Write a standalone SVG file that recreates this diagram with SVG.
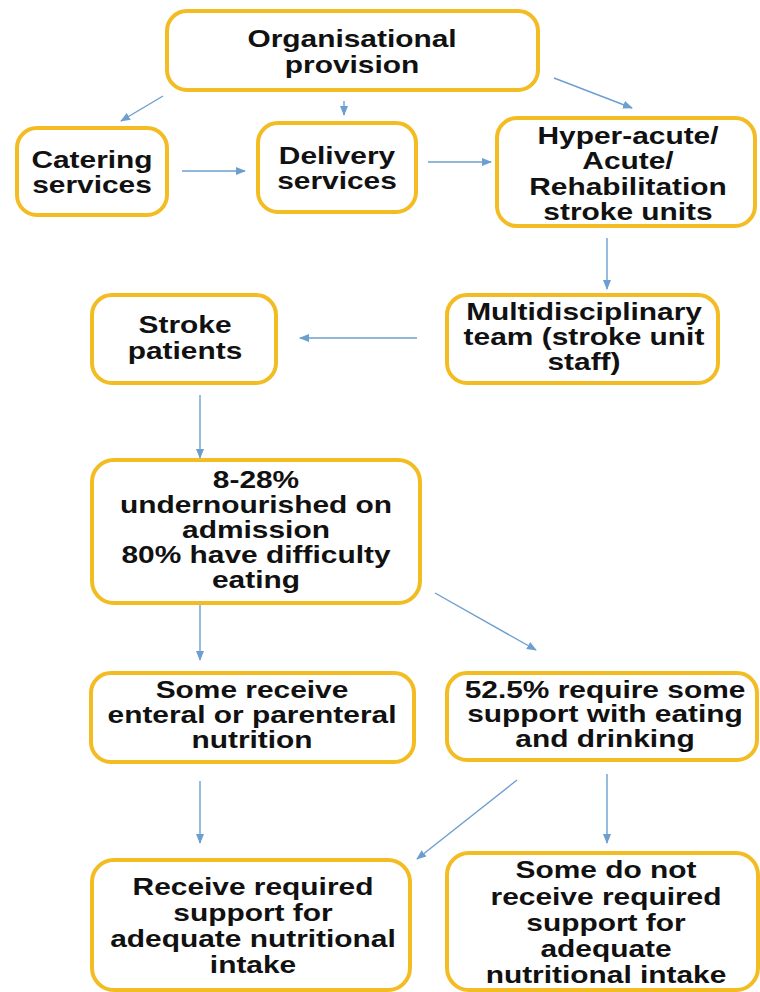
<svg xmlns="http://www.w3.org/2000/svg" width="760" height="992" viewBox="0 0 760 992">
<style>
.box{fill:#fff;stroke:#F2BC22;stroke-width:4}
.t{font-family:"Liberation Sans",Arial,sans-serif;font-weight:bold;font-size:23px;fill:#111;text-anchor:middle}
.c{stroke:#6C9FCF;stroke-width:1.4;fill:none;marker-end:url(#ah)}
</style>
<defs>
<marker id="ah" markerUnits="userSpaceOnUse" markerWidth="10" markerHeight="10" viewBox="0 0 10 10" refX="9" refY="5" orient="auto">
<path d="M0,1 L10,5 L0,9 Z" fill="#6C9FCF"/>
</marker>
</defs>
<rect width="760" height="992" fill="#fff"/>
<g id="connectors">
<line class="c" x1="163" y1="96" x2="121" y2="121"/>
<line class="c" x1="344" y1="101" x2="344" y2="115"/>
<line class="c" x1="554" y1="78" x2="632" y2="108"/>
<line class="c" x1="182" y1="171" x2="245" y2="171"/>
<line class="c" x1="428" y1="162" x2="491" y2="162"/>
<line class="c" x1="607" y1="238" x2="607" y2="289"/>
<line class="c" x1="417" y1="338" x2="300" y2="338"/>
<line class="c" x1="200" y1="395" x2="200" y2="458"/>
<line class="c" x1="200" y1="603" x2="200" y2="660"/>
<line class="c" x1="435" y1="593" x2="536" y2="650"/>
<line class="c" x1="200" y1="781" x2="200" y2="843"/>
<line class="c" x1="517" y1="780" x2="417" y2="859"/>
<line class="c" x1="607" y1="774" x2="607" y2="843"/>
</g>
<g id="n-org">
<rect class="box" x="167" y="11" width="371" height="79" rx="20"/>
<text class="t" transform="translate(352,0) scale(1.3,1)"><tspan x="0" y="47">Organisational</tspan><tspan x="0" y="73">provision</tspan></text>
</g>
<g id="n-catering">
<rect class="box" x="17" y="128" width="150" height="87" rx="20"/>
<text class="t" transform="translate(92,0) scale(1.3,1)"><tspan x="0" y="168">Catering</tspan><tspan x="0" y="193">services</tspan></text>
</g>
<g id="n-delivery">
<rect class="box" x="258" y="123" width="158" height="89" rx="20"/>
<text class="t" transform="translate(337,0) scale(1.3,1)"><tspan x="0" y="164">Delivery</tspan><tspan x="0" y="189">services</tspan></text>
</g>
<g id="n-units">
<rect class="box" x="497" y="118" width="258" height="108" rx="20"/>
<text class="t" transform="translate(628,0) scale(1.3,1)"><tspan x="0" y="144">Hyper-acute/</tspan><tspan x="0" y="169">Acute/</tspan><tspan x="0" y="195">Rehabilitation</tspan><tspan x="0" y="220">stroke units</tspan></text>
</g>
<g id="n-mdt">
<rect class="box" x="447" y="295" width="271" height="88" rx="20"/>
<text class="t" transform="translate(584,0) scale(1.3,1)"><tspan x="0" y="320">Multidisciplinary</tspan><tspan x="0" y="345">team (stroke unit</tspan><tspan x="0" y="370">staff)</tspan></text>
</g>
<g id="n-patients">
<rect class="box" x="92" y="295" width="184" height="88" rx="20"/>
<text class="t" transform="translate(185,0) scale(1.3,1)"><tspan x="0" y="333">Stroke</tspan><tspan x="0" y="359">patients</tspan></text>
</g>
<g id="n-under">
<rect class="box" x="92" y="460" width="328" height="143" rx="22"/>
<text class="t" transform="translate(256,0) scale(1.3,1)"><tspan x="0" y="488">8-28%</tspan><tspan x="0" y="513">undernourished on</tspan><tspan x="0" y="538">admission</tspan><tspan x="0" y="563">80% have difficulty</tspan><tspan x="0" y="588">eating</tspan></text>
</g>
<g id="n-enteral">
<rect class="box" x="91" y="673" width="323" height="89" rx="20"/>
<text class="t" transform="translate(252,0) scale(1.3,1)"><tspan x="0" y="698">Some receive</tspan><tspan x="0" y="723">enteral or parenteral</tspan><tspan x="0" y="748">nutrition</tspan></text>
</g>
<g id="n-support">
<rect class="box" x="447" y="673" width="310" height="87" rx="20"/>
<text class="t" transform="translate(605,0) scale(1.3,1)"><tspan x="0" y="698">52.5% require some</tspan><tspan x="0" y="722">support with eating</tspan><tspan x="0" y="747">and drinking</tspan></text>
</g>
<g id="n-receive">
<rect class="box" x="92" y="860" width="318" height="130" rx="22"/>
<text class="t" transform="translate(253,0) scale(1.3,1)"><tspan x="0" y="895">Receive required</tspan><tspan x="0" y="921">support for</tspan><tspan x="0" y="947">adequate nutritional</tspan><tspan x="0" y="973">intake</tspan></text>
</g>
<g id="n-notreceive">
<rect class="box" x="447" y="853" width="311" height="137" rx="22"/>
<text class="t" transform="translate(606,0) scale(1.3,1)"><tspan x="0" y="878">Some do not</tspan><tspan x="0" y="905">receive required</tspan><tspan x="0" y="931">support for</tspan><tspan x="0" y="957">adequate</tspan><tspan x="0" y="983">nutritional intake</tspan></text>
</g>
</svg>
